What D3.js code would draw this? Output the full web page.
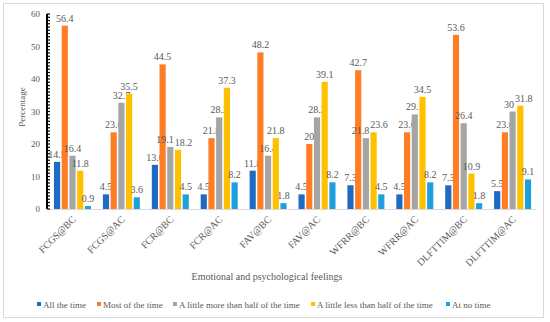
<!DOCTYPE html>
<html lang="en">
<head>
  <meta charset="utf-8" />
  <title>Emotional and psychological feelings</title>
  <style>
    body { margin: 0; background: #fff; }
    text { font-family: "Liberation Serif", "Times New Roman", serif; fill: #595959; }
  </style>
  <script src="https://d3js.org/d3.v7.min.js"></script>
</head>
<body>
<script>

// categories and series
const categories = ["FCGS@BC", "FCGS@AC", "FCR@BC", "FCR@AC", "FAV@BC",
                    "FAV@AC", "WFRR@BC", "WFRR@AC", "DLFTTIM@BC", "DLFTTIM@AC"];
const seriesNames = ["All the time", "Most of the time", "A little more than half of the time",
                     "A little less than half of the time", "At no time"];

const allTheTime     = [14.5, 4.5, 13.6, 4.5, 11.8, 4.5, 7.3, 4.5, 7.3, 5.5];
const mostOfTheTime  = [56.4, 23.6, 44.5, 21.8, 48.2, 20, 42.7, 23.6, 53.6, 23.6];
const moreThanHalf   = [16.4, 32.7, 19.1, 28.2, 16.4, 28.2, 21.8, 29.1, 26.4, 30];
const lessThanHalf   = [11.8, 35.5, 18.2, 37.3, 21.8, 39.1, 23.6, 34.5, 10.9, 31.8];
const atNoTime       = [0.9, 3.6, 4.5, 8.2, 1.8, 8.2, 4.5, 8.2, 1.8, 9.1];
const yTicks = [0, 10, 20, 30, 40, 50, 60];

const seriesValues = [allTheTime, mostOfTheTime, moreThanHalf, lessThanHalf, atNoTime];
const colors = ["#1F6BC4", "#FF7D25", "#A5A5A5", "#FFC000", "#1E9FDE"];

const W = 550, H = 322;
const svg = d3.select("body").append("svg")
  .attr("width", W).attr("height", H);

// chart border
svg.append("rect")
  .attr("x", 3.5).attr("y", 3.5).attr("width", 540).attr("height", 314)
  .attr("fill", "#fff").attr("stroke", "#D9D9D9");

const plotLeft = 47, plotRight = 536, plotTop = 14, plotBottom = 209;

const y = d3.scaleLinear().domain([0, 60]).range([plotBottom, plotTop]);
const x0 = d3.scaleBand().domain(categories).range([plotLeft, plotRight]);
const x1 = d3.scaleBand().domain(d3.range(5)).range([7, 44]).paddingInner(0.2);

// x axis line
svg.append("line")
  .attr("x1", plotLeft).attr("x2", plotRight)
  .attr("y1", plotBottom + 0.5).attr("y2", plotBottom + 0.5)
  .attr("stroke", "#D9D9D9");

// bars + value labels
const groups = svg.selectAll("g.grp")
  .data(categories)
  .join("g")
    .attr("class", "grp")
    .attr("transform", d => `translate(${x0(d)},0)`);

groups.each(function(cat, ci) {
  const g = d3.select(this);
  const labels = [];
  seriesValues.forEach((vals, si) => {
    g.append("rect")
      .attr("x", x1(si))
      .attr("y", y(vals[ci]))
      .attr("width", x1.bandwidth())
      .attr("height", plotBottom - y(vals[ci]))
      .attr("fill", colors[si]);
    const cx = x1(si) + x1.bandwidth() / 2;
    const t = g.append("text")
      .attr("x", cx)
      .attr("y", y(vals[ci]) - 4)
      .attr("text-anchor", "middle")
      .style("font-size", "10px")
      .text(vals[ci]);
    labels.push({ t, cx, ly: y(vals[ci]) - 4, w: t.node().getComputedTextLength() });
  });
  // push apart neighbouring labels that collide
  for (let i = 1; i < labels.length; i++) {
    const a = labels[i - 1], b = labels[i];
    if (Math.abs(a.ly - b.ly) < 9) {
      const overlap = (a.cx + a.w / 2) - (b.cx - b.w / 2) + 1;
      if (overlap > 0) {
        a.cx -= overlap / 2;
        b.cx += overlap / 2;
        a.t.attr("x", a.cx);
        b.t.attr("x", b.cx);
      }
    }
  }
});

// y axis (black, with minor ticks)
const yAxis = svg.append("g");
yAxis.append("line")
  .attr("x1", plotLeft).attr("x2", plotLeft)
  .attr("y1", plotTop).attr("y2", plotBottom)
  .attr("stroke", "#000").attr("stroke-width", 2);
yAxis.selectAll("line.minor")
  .data(d3.range(0, 61, 1))
  .join("line")
    .attr("class", "minor")
    .attr("x1", plotLeft).attr("x2", plotLeft + 3)
    .attr("y1", d => y(d)).attr("y2", d => y(d))
    .attr("stroke", "#000").attr("stroke-width", 1.2);
yAxis.selectAll("text")
  .data(yTicks)
  .join("text")
    .attr("x", plotLeft - 7)
    .attr("y", d => y(d) + 3)
    .attr("text-anchor", "end")
    .style("font-size", "9px")
    .text(d => d);

// y title
svg.append("text")
  .attr("transform", `translate(25,107) rotate(-90)`)
  .attr("text-anchor", "middle")
  .style("font-size", "9px")
  .text("Percentage");

// x tick labels
svg.selectAll("text.xlab")
  .data(categories)
  .join("text")
    .attr("class", "xlab")
    .attr("transform", d => `translate(${x0(d) + x0.bandwidth() / 2 + 5},${plotBottom + 11}) rotate(-45)`)
    .attr("text-anchor", "end")
    .style("font-size", "10px")
    .text(d => d);

// x title
svg.append("text")
  .attr("x", 267).attr("y", 280)
  .attr("text-anchor", "middle")
  .style("font-size", "10px")
  .text("Emotional and psychological feelings");

// legend
const legendX = [37, 97, 173, 311, 446];
const legend = svg.selectAll("g.leg")
  .data(seriesNames)
  .join("g")
    .attr("class", "leg")
    .attr("transform", (d, i) => `translate(${legendX[i]},305)`);
legend.append("rect")
  .attr("x", 0).attr("y", -3).attr("width", 4).attr("height", 4)
  .attr("fill", (d, i) => colors[i]);
legend.append("text")
  .attr("x", 6).attr("y", 2.5)
  .style("font-size", "9px")
  .text(d => d);

</script>
</body>
</html>
